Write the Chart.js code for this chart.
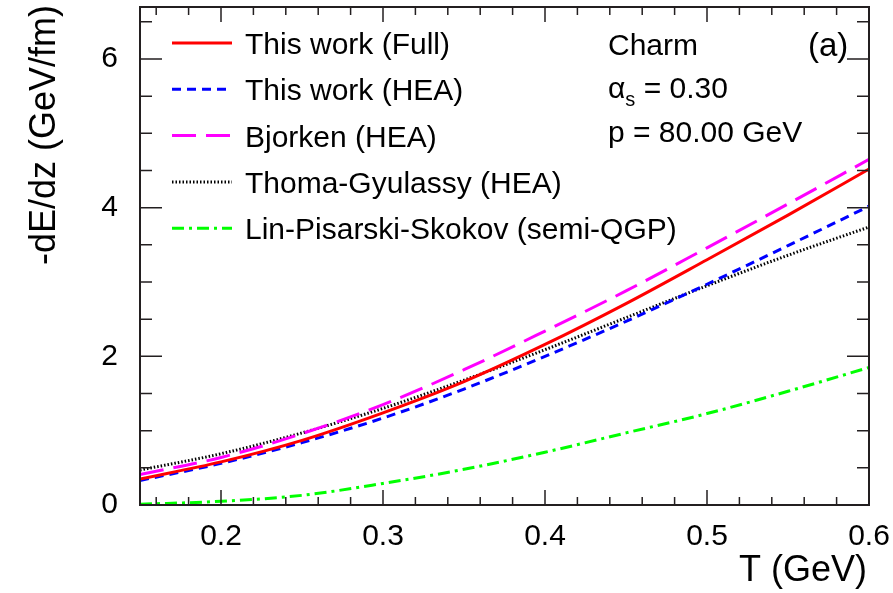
<!DOCTYPE html>
<html>
<head>
<meta charset="utf-8">
<script src="https://cdn.jsdelivr.net/npm/chart.js@4"></script>
<style>
  html, body { margin: 0; padding: 0; background: #fff; }
  #wrap { width: 893px; height: 593px; position: relative; }
</style>
</head>
<body>
<div id="wrap"><canvas id="eloss_chart"></canvas></div>
<script>
// temperature grid (GeV) and -dE/dz (GeV/fm) per model
const T_VALUES = [0.15, 0.20, 0.25, 0.30, 0.35, 0.40, 0.45, 0.50, 0.55, 0.60];
const FULL     = [0.35, 0.58, 0.87, 1.24, 1.66, 2.16, 2.71, 3.30, 3.90, 4.52];
const HEA      = [0.33, 0.56, 0.84, 1.17, 1.56, 2.00, 2.47, 2.97, 3.49, 4.02];
const BJORKEN  = [0.41, 0.64, 0.96, 1.35, 1.82, 2.34, 2.88, 3.46, 4.05, 4.65];
const THOMA    = [0.47, 0.69, 0.97, 1.30, 1.68, 2.09, 2.52, 2.95, 3.36, 3.74];
const LPS      = [0.01, 0.05, 0.13, 0.29, 0.48, 0.71, 0.97, 1.23, 1.53, 1.85];

const X_TICKS = [0.2, 0.3, 0.4, 0.5, 0.6];
const Y_TICKS = [0, 2, 4, 6];
const INFO_LINES = ["Charm", "= 0.30", "p = 80.00 GeV"];

const FONT = "'Liberation Sans', Arial, Helvetica, sans-serif";
const AXIS_COLOR = "#231f20";

function to_points(values) {
    return T_VALUES.map((t, i) => ({x: t, y: values[i]}));
}

function make_dataset(label, values, color, dash) {
    return {
        label: label,
        data: to_points(values),
        borderColor: color,
        backgroundColor: color,
        borderWidth: 3,
        borderDash: dash,
        pointRadius: 0,
        cubicInterpolationMode: 'monotone',
        fill: false
    };
}

// no extra room for overhanging tick labels
function no_label_padding(s) {
    s.paddingTop = 0;
    s.paddingBottom = 0;
    s.paddingLeft = 0;
    s.paddingRight = 0;
}

// frame with inward ticks on all four sides, ROOT style
const frame_plugin = {
    id: 'frame',
    afterDatasetsDraw(chart) {
        const ctx = chart.ctx;
        const a = chart.chartArea;
        const xs = chart.scales.x;
        const ys = chart.scales.y;
        ctx.save();
        ctx.strokeStyle = AXIS_COLOR;
        ctx.lineWidth = 2;
        ctx.setLineDash([]);
        ctx.strokeRect(a.left, a.top, a.right - a.left, a.bottom - a.top);
        ctx.lineWidth = 1.5;
        ctx.beginPath();
        for (let i = 8; i <= 30; i++) {
            const v = i / 50;
            if (v < 0.15 || v > 0.6) continue;
            const px = xs.getPixelForValue(v);
            const major = i % 5 === 0;
            const len = major ? 15 : 8;
            ctx.moveTo(px, a.bottom); ctx.lineTo(px, a.bottom - len);
            ctx.moveTo(px, a.top); ctx.lineTo(px, a.top + len);
        }
        for (let i = 0; i <= 13; i++) {
            const v = i / 2;
            const py = ys.getPixelForValue(v);
            const major = i % 4 === 0;
            const len = major ? 22 : 12;
            ctx.moveTo(a.left, py); ctx.lineTo(a.left + len, py);
            ctx.moveTo(a.right, py); ctx.lineTo(a.right - len, py);
        }
        ctx.stroke();
        ctx.restore();
    },
    afterDraw(chart) {
        const ctx = chart.ctx;
        ctx.save();
        ctx.fillStyle = "#000";

        // axis titles, aligned to the axis ends
        ctx.font = "36px " + FONT;
        ctx.textAlign = 'right';
        ctx.textBaseline = 'alphabetic';
        ctx.fillText("T (GeV)", 867, 581);
        ctx.save();
        ctx.translate(55, 5);
        ctx.rotate(-Math.PI / 2);
        ctx.fillText("-dE/dz (GeV/fm)", 0, 0);
        ctx.restore();

        // legend
        ctx.textAlign = 'left';
        ctx.font = "30px " + FONT;
        chart.data.datasets.forEach((ds, i) => {
            const y = 43 + i * 46.3;
            ctx.save();
            ctx.strokeStyle = ds.borderColor;
            ctx.lineWidth = ds.borderWidth;
            ctx.setLineDash(ds.borderDash || []);
            ctx.beginPath();
            ctx.moveTo(172, y);
            ctx.lineTo(232, y);
            ctx.stroke();
            ctx.restore();
            ctx.fillText(ds.label, 245, y + 11);
        });

        // parameter text
        ctx.fillText(INFO_LINES[0], 608, 55);
        ctx.fillText("\u03b1", 608, 98);
        const aw = ctx.measureText("\u03b1").width;
        ctx.font = "20px " + FONT;
        ctx.fillText("s", 608 + aw, 106);
        const sw = ctx.measureText("s").width;
        ctx.font = "30px " + FONT;
        ctx.fillText(" " + INFO_LINES[1], 608 + aw + sw, 98);
        ctx.fillText(INFO_LINES[2], 608, 142);

        ctx.font = "33px " + FONT;
        ctx.fillText("(a)", 808, 56);
        ctx.restore();
    }
};

const chart = new Chart(document.getElementById('eloss_chart').getContext('2d'), {
    type: 'line',
    data: {
        datasets: [
            make_dataset("This work (Full)", FULL, "#ff0000", []),
            make_dataset("This work (HEA)", HEA, "#0000ff", [9, 6]),
            make_dataset("Bjorken (HEA)", BJORKEN, "#ff00ff", [24, 10]),
            make_dataset("Thoma-Gyulassy (HEA)", THOMA, "#000000", [1.5, 2]),
            make_dataset("Lin-Pisarski-Skokov (semi-QGP)", LPS, "#00ff00", [12, 5, 3, 5])
        ]
    },
    options: {
        responsive: true,
        maintainAspectRatio: false,
        animation: false,
        events: [],
        layout: { padding: { left: 0, top: 7, right: 24, bottom: 0 } },
        plugins: {
            legend: { display: false },
            tooltip: { enabled: false }
        },
        scales: {
            x: {
                type: 'linear',
                min: 0.15,
                max: 0.6,
                afterBuildTicks: (s) => { s.ticks = X_TICKS.map(v => ({value: v})); },
                afterFit: (s) => { s.height = 88; no_label_padding(s); },
                grid: { display: false, drawTicks: false },
                border: { display: false },
                ticks: {
                    color: "#000",
                    font: { family: FONT, size: 30 },
                    padding: 14,
                    maxRotation: 0,
                    callback: (v) => v.toFixed(1)
                }
            },
            y: {
                type: 'linear',
                min: 0,
                max: 6.7,
                afterBuildTicks: (s) => { s.ticks = Y_TICKS.map(v => ({value: v})); },
                afterFit: (s) => { s.width = 140; no_label_padding(s); },
                grid: { display: false, drawTicks: false },
                border: { display: false },
                ticks: {
                    color: "#000",
                    font: { family: FONT, size: 30 },
                    padding: 22,
                    callback: (v) => String(v)
                }
            }
        }
    },
    plugins: [frame_plugin]
});
</script>
</body>
</html>
